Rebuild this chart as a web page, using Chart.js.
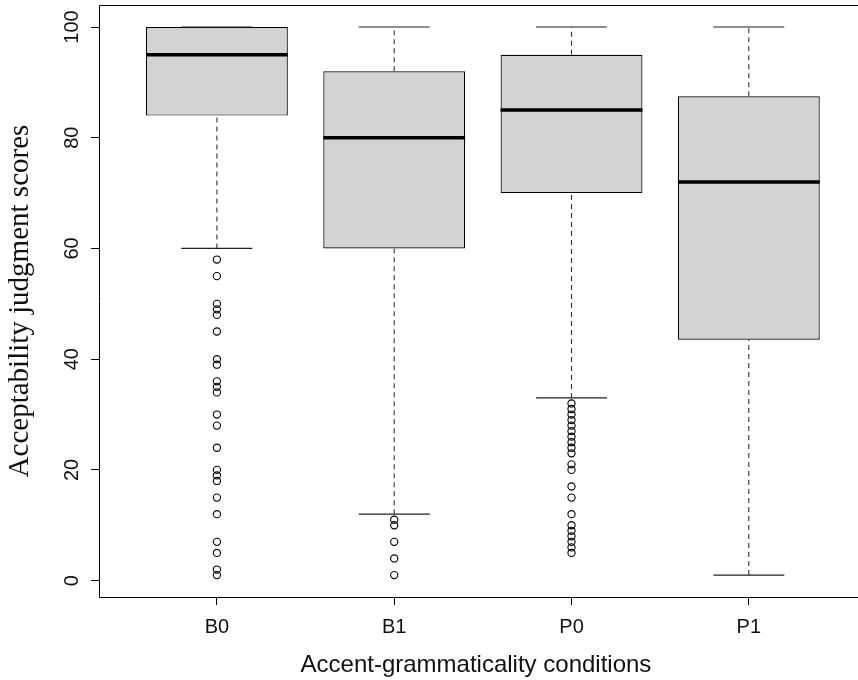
<!DOCTYPE html>
<html>
<head>
<meta charset="utf-8">
<script src="https://cdn.jsdelivr.net/npm/chart.js@4.4.0/dist/chart.umd.min.js"></script>
<style>
  html, body { margin: 0; padding: 0; background: #fff; overflow: hidden; }
  #wrap { width: 858px; height: 680px; }
</style>
</head>
<body>
<div id="wrap"><canvas id="chart"></canvas></div>
<script>
// values
const categories = ['B0', 'B1', 'P0', 'P1'];
const whiskerLow = [60, 12, 33, 1];
const q1 = [84, 60, 70, 43.5];
const medians = [95, 80, 85, 72];
const q3 = [100, 92, 95, 87.5];
const whiskerHigh = [100, 100, 100, 100];
const outliersB0 = [58, 55, 50, 49, 48, 45, 40, 39, 36, 35, 34, 30, 28, 24, 20, 19, 18, 15, 12, 7, 5, 2, 1];
const outliersB1 = [11, 10, 7, 4, 1];
const outliersP0 = [32, 31, 30, 29, 28, 27, 26, 25, 24, 23, 21, 20, 17, 15, 12, 10, 9, 8, 7, 6, 5];
const outliersP1 = [];
const yTicks = [0, 20, 40, 60, 80, 100];

const outliers = [outliersB0, outliersB1, outliersP0, outliersP1];
const BOX_HALF = 0.4;
const CAP_HALF = 0.2;

// segments separated by null points so one line dataset can hold them all
function segments(build) {
    const pts = [];
    categories.forEach((c, i) => {
        build(i + 1, i).forEach(seg => {
            pts.push(seg[0], seg[1], { x: i + 1, y: null });
        });
    });
    return pts;
}

const medianPts = segments((x, i) => [[{ x: x - BOX_HALF, y: medians[i] }, { x: x + BOX_HALF, y: medians[i] }]]);
const whiskerPts = segments((x, i) => [
    [{ x: x, y: q3[i] }, { x: x, y: whiskerHigh[i] }],
    [{ x: x, y: whiskerLow[i] }, { x: x, y: q1[i] }]
]);
const capPts = segments((x, i) => [
    [{ x: x - CAP_HALF, y: whiskerHigh[i] }, { x: x + CAP_HALF, y: whiskerHigh[i] }],
    [{ x: x - CAP_HALF, y: whiskerLow[i] }, { x: x + CAP_HALF, y: whiskerLow[i] }]
]);
const outlierPts = [];
outliers.forEach((list, i) => list.forEach(v => outlierPts.push({ x: i + 1, y: v })));

// plot frame; the source image is cropped just before its right edge
const frame = {
    id: 'frame',
    afterDatasetsDraw(chart) {
        const { ctx, chartArea: a } = chart;
        const l = Math.round(a.left) + 0.5, t = Math.round(a.top) + 0.5, b = Math.round(a.bottom) + 0.5;
        ctx.save();
        ctx.strokeStyle = '#000';
        ctx.lineWidth = 1;
        ctx.beginPath();
        ctx.moveTo(chart.width, t);
        ctx.lineTo(l, t);
        ctx.lineTo(l, b);
        ctx.lineTo(chart.width, b);
        ctx.stroke();
        ctx.restore();
    }
};

new Chart(document.getElementById('chart'), {
    type: 'bar',
    data: {
        datasets: [
            {
                type: 'line',
                label: 'outliers',
                data: outlierPts,
                showLine: false,
                pointStyle: 'circle',
                pointRadius: 3.6,
                pointBorderWidth: 1.1,
                pointBorderColor: '#000',
                pointBackgroundColor: 'rgba(0,0,0,0)',
                order: 0
            },
            {
                type: 'line',
                label: 'median',
                data: medianPts,
                borderColor: '#000',
                borderWidth: 3.5,
                borderCapStyle: 'butt',
                pointRadius: 0,
                spanGaps: false,
                order: 1
            },
            {
                type: 'line',
                label: 'caps',
                data: capPts,
                borderColor: '#222',
                borderWidth: 1.2,
                pointRadius: 0,
                spanGaps: false,
                order: 2
            },
            {
                type: 'line',
                label: 'whiskers',
                data: whiskerPts,
                borderColor: '#333',
                borderWidth: 1.1,
                borderDash: [5, 4],
                pointRadius: 0,
                spanGaps: false,
                order: 3
            },
            {
                type: 'bar',
                label: 'box',
                data: categories.map((c, i) => ({ x: i + 1, y: [q1[i], q3[i]] })),
                backgroundColor: '#d3d3d3',
                borderColor: '#000',
                borderWidth: 1.2,
                borderSkipped: false,
                barPercentage: 2 * BOX_HALF,
                categoryPercentage: 1,
                order: 4
            }
        ]
    },
    options: {
        responsive: true,
        maintainAspectRatio: false,
        animation: false,
        layout: { padding: { top: 5, right: 5, left: 1, bottom: 0 } },
        plugins: {
            legend: { display: false },
            tooltip: { enabled: false }
        },
        scales: {
            x: {
                type: 'linear',
                min: 0.335,
                max: 4.587,
                offset: false,
                afterBuildTicks: s => { s.ticks = categories.map((c, i) => ({ value: i + 1 })); },
                afterFit: s => { s.height = 83; s.paddingLeft = 0; s.paddingRight = 0; },
                grid: { offset: false, drawOnChartArea: false, drawTicks: true, tickLength: 8, color: '#000' },
                border: { display: false },
                ticks: {
                    callback: v => categories[v - 1],
                    color: '#111',
                    padding: 10,
                    maxRotation: 0,
                    font: { family: "'Liberation Sans', Arial, sans-serif", size: 20 }
                },
                title: {
                    display: true,
                    text: 'Accent-grammaticality conditions',
                    color: '#111',
                    padding: { top: 0, bottom: 0 },
                    font: { family: "'Liberation Sans', Arial, sans-serif", size: 24 }
                }
            },
            y: {
                min: -2.96,
                max: 103.96,
                afterBuildTicks: s => { s.ticks = yTicks.map(v => ({ value: v })); },
                afterFit: s => { s.width = 98; s.paddingTop = 0; s.paddingBottom = 0; },
                grid: { drawOnChartArea: false, drawTicks: true, tickLength: 8, color: '#000' },
                border: { display: false },
                ticks: {
                    color: '#111',
                    padding: 2,
                    minRotation: 90,
                    maxRotation: 90,
                    crossAlign: 'center',
                    font: { family: "'Liberation Sans', Arial, sans-serif", size: 20 }
                },
                title: {
                    display: true,
                    text: 'Acceptability judgment scores',
                    color: '#111',
                    padding: { top: 2, bottom: 0 },
                    font: { family: "'Liberation Serif', 'Times New Roman', serif", size: 29 }
                }
            }
        }
    },
    plugins: [frame]
});
</script>
</body>
</html>
